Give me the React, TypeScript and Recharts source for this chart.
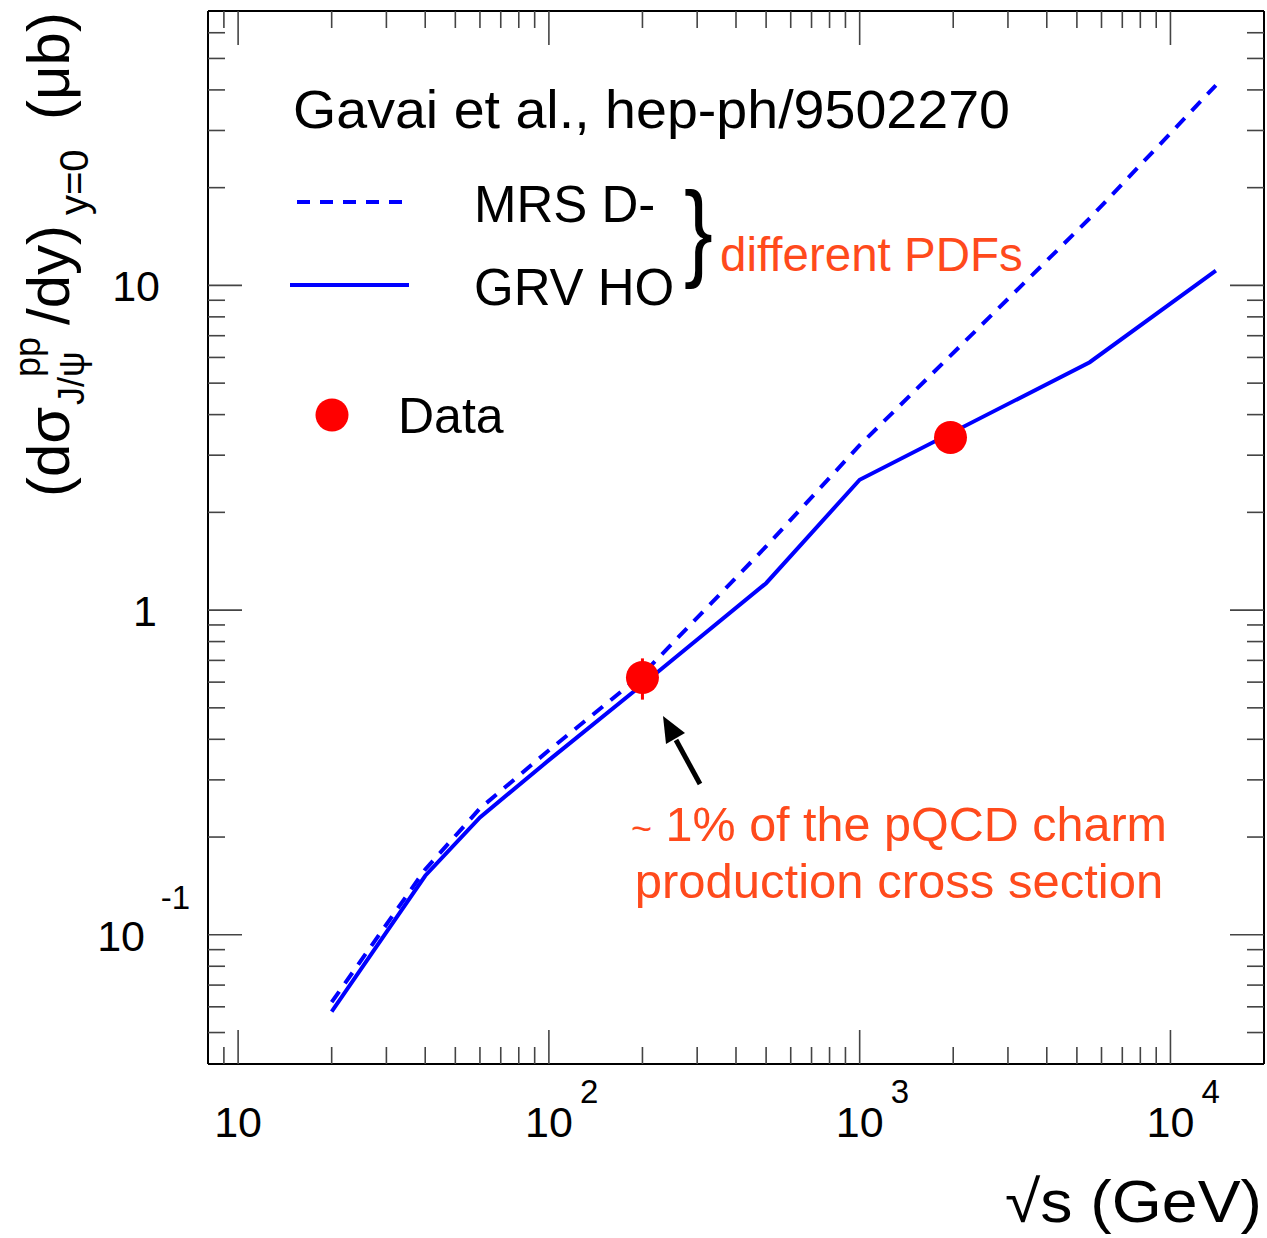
import React from 'react';
import { ComposedChart, Line, Scatter, ErrorBar, XAxis, YAxis } from 'recharts';

// sqrt(s) in GeV, dσ/dy at y=0 in μb
const sqrtS = [20, 40, 60, 100, 200, 500, 1000, 5500, 14000];
const grvHO = [0.058, 0.152, 0.23, 0.345, 0.59, 1.21, 2.52, 5.8, 11.1];
const mrsDminus = [0.062, 0.159, 0.245, 0.37, 0.634, 1.57, 3.22, 16.1, 41.3];

const dataSqrtS = [200, 1960];
const dataSigma = [0.62, 3.4];
const dataErr = [0.09, 0];

const xTicks = [
  9, 10, 20, 30, 40, 50, 60, 70, 80, 90,
  100, 200, 300, 400, 500, 600, 700, 800, 900,
  1000, 2000, 3000, 4000, 5000, 6000, 7000, 8000, 9000, 10000,
];
const yTicks = [
  0.05, 0.06, 0.07, 0.08, 0.09, 0.1, 0.2, 0.3, 0.4, 0.5, 0.6, 0.7, 0.8, 0.9,
  1, 2, 3, 4, 5, 6, 7, 8, 9, 10, 20, 30, 40, 50, 60,
];

const FONT = '"Liberation Sans", Arial, Helvetica, sans-serif';
const BLUE = '#0000ff';
const RED = '#ff0000';
const ORANGE = '#ff4a1c';
const TICK = '#444';
const MAJOR = 34;
const MINOR = 17;

const grvData = sqrtS.map((x, i) => ({ x, y: grvHO[i] }));
const mrsData = sqrtS.map((x, i) => ({ x, y: mrsDminus[i] }));
const pointData = dataSqrtS.map((x, i) => ({ x, y: dataSigma[i], err: dataErr[i] }));

const isMajor = (v: number) => Math.abs(Math.log10(v) - Math.round(Math.log10(v))) < 1e-9;

function BottomTick(props: any) {
  const { x, y, payload } = props;
  const v = payload.value;
  const major = isMajor(v);
  const exp = Math.round(Math.log10(v));
  return (
    <g>
      <line x1={x} y1={y} x2={x} y2={y - (major ? MAJOR : MINOR)} stroke={TICK} strokeWidth={1.6} />
      {major && (
        <text x={x} y={y + 73} textAnchor="middle" fontSize={43} fontFamily={FONT} fill="#000">
          10
        </text>
      )}
      {major && exp > 1 && (
        <text x={x + 31} y={y + 39} fontSize={33} fontFamily={FONT} fill="#000">
          {exp}
        </text>
      )}
    </g>
  );
}

function TopTick(props: any) {
  const { x, y, payload } = props;
  const len = isMajor(payload.value) ? MAJOR : MINOR;
  return <line x1={x} y1={y} x2={x} y2={y + len} stroke={TICK} strokeWidth={1.6} />;
}

function LeftTick(props: any) {
  const { x, y, payload } = props;
  const v = payload.value;
  const major = isMajor(v);
  const exp = Math.round(Math.log10(v));
  const txt = { fontFamily: FONT, fill: '#000' };
  return (
    <g>
      <line x1={x} y1={y} x2={x + (major ? MAJOR : MINOR)} y2={y} stroke={TICK} strokeWidth={1.6} />
      {major && exp === 1 && (
        <text x={x - 48} y={y + 16} textAnchor="end" fontSize={43} {...txt}>10</text>
      )}
      {major && exp === 0 && (
        <text x={x - 51} y={y + 16} textAnchor="end" fontSize={43} {...txt}>1</text>
      )}
      {major && exp < 0 && (
        <g>
          <text x={x - 63} y={y + 16} textAnchor="end" fontSize={43} {...txt}>10</text>
          <text x={x - 18} y={y - 26} textAnchor="end" fontSize={33} {...txt}>{exp}</text>
        </g>
      )}
    </g>
  );
}

function RightTick(props: any) {
  const { x, y, payload } = props;
  const len = isMajor(payload.value) ? MAJOR : MINOR;
  return <line x1={x} y1={y} x2={x - len} y2={y} stroke={TICK} strokeWidth={1.6} />;
}

function Annotations() {
  const t = { fontFamily: FONT };
  return (
    <svg
      width={1267}
      height={1238}
      style={{ position: 'absolute', left: 0, top: 0, pointerEvents: 'none' }}
    >
      {/* y-axis title */}
      <g transform="translate(69,497) rotate(-90)" {...t} fill="#000">
        <text x={0} y={0} fontSize={60}>(dσ</text>
        <text x={92} y={15} fontSize={36}>J/ψ</text>
        <text x={120} y={-29} fontSize={36}>pp</text>
        <text x={172} y={0} fontSize={60}>/dy)</text>
        <text x={282} y={19} fontSize={40}>y=0</text>
        <text x={377} y={0} fontSize={60}>(μb)</text>
      </g>

      {/* x-axis title */}
      <text
        x={1005}
        y={1222}
        fontSize={59}
        textLength={257}
        lengthAdjust="spacingAndGlyphs"
        {...t}
        fill="#000"
      >
        √s (GeV)
      </text>

      {/* legend */}
      <text
        x={293}
        y={128}
        fontSize={53}
        textLength={717}
        lengthAdjust="spacingAndGlyphs"
        {...t}
        fill="#000"
      >
        Gavai et al., hep-ph/9502270
      </text>
      <line x1={297} y1={202} x2={410} y2={202} stroke={BLUE} strokeWidth={4} strokeDasharray="13 10" />
      <text x={474} y={222} fontSize={51} {...t} fill="#000">MRS D-</text>
      <line x1={290} y1={285} x2={409} y2={285} stroke={BLUE} strokeWidth={4} />
      <text x={474} y={305} fontSize={51} {...t} fill="#000">GRV HO</text>
      <text x={0} y={0} fontSize={108} {...t} fill="#000" transform="translate(684,267) scale(0.8,1)">
        {'}'}
      </text>
      <text x={720} y={271} fontSize={47.5} {...t} fill={ORANGE}>different PDFs</text>
      <circle cx={332} cy={415} r={16.5} fill={RED} />
      <text x={398} y={433} fontSize={50} {...t} fill="#000">Data</text>

      {/* arrow to the RHIC point */}
      <line x1={700} y1={784} x2={676} y2={740} stroke="#000" strokeWidth={5} />
      <polygon points="663,716 685,733 666,744" fill="#000" />
      <text x={899} y={841} textAnchor="middle" fontSize={48.5} {...t} fill={ORANGE}>
        <tspan fontSize={36}>~</tspan> 1% of the pQCD charm
      </text>
      <text x={899} y={898} textAnchor="middle" fontSize={49} {...t} fill={ORANGE}>
        production cross section
      </text>
    </svg>
  );
}

export default function App() {
  const axisLine = { stroke: '#000', strokeWidth: 2 };
  return (
    <div
      style={{
        position: 'absolute',
        left: 0,
        top: 0,
        width: 1267,
        height: 1238,
        background: '#fff',
        fontFamily: FONT,
      }}
    >
      <ComposedChart
        width={1267}
        height={1238}
        margin={{ top: 10, right: 2, bottom: 74, left: 108 }}
      >
        <XAxis
          xAxisId="b"
          dataKey="x"
          type="number"
          scale="log"
          domain={[8, 20000]}
          allowDataOverflow
          ticks={xTicks}
          interval={0}
          tick={<BottomTick />}
          tickLine={false}
          tickSize={0}
          tickMargin={0}
          axisLine={axisLine}
          height={100}
        />
        <XAxis
          xAxisId="t"
          orientation="top"
          dataKey="x"
          type="number"
          scale="log"
          domain={[8, 20000]}
          allowDataOverflow
          ticks={xTicks}
          interval={0}
          tick={<TopTick />}
          tickLine={false}
          tickSize={0}
          tickMargin={0}
          axisLine={axisLine}
          height={1}
        />
        <YAxis
          yAxisId="l"
          type="number"
          scale="log"
          domain={[0.04, 70]}
          allowDataOverflow
          ticks={yTicks}
          interval={0}
          tick={<LeftTick />}
          tickLine={false}
          tickSize={0}
          tickMargin={0}
          axisLine={axisLine}
          width={100}
        />
        <YAxis
          yAxisId="r"
          orientation="right"
          type="number"
          scale="log"
          domain={[0.04, 70]}
          allowDataOverflow
          ticks={yTicks}
          interval={0}
          tick={<RightTick />}
          tickLine={false}
          tickSize={0}
          tickMargin={0}
          axisLine={axisLine}
          width={1}
        />
        <Line
          xAxisId="b"
          yAxisId="l"
          data={mrsData}
          dataKey="y"
          type="linear"
          stroke={BLUE}
          strokeWidth={4}
          strokeDasharray="13 10"
          dot={false}
          isAnimationActive={false}
        />
        <Line
          xAxisId="b"
          yAxisId="l"
          data={grvData}
          dataKey="y"
          type="linear"
          stroke={BLUE}
          strokeWidth={4}
          dot={false}
          isAnimationActive={false}
        />
        <Scatter
          xAxisId="b"
          yAxisId="l"
          data={pointData}
          dataKey="y"
          isAnimationActive={false}
          shape={(p: any) => <circle cx={p.cx} cy={p.cy} r={16.5} fill={RED} />}
        >
          <ErrorBar dataKey="err" direction="y" width={0} stroke={RED} strokeWidth={3} />
        </Scatter>
      </ComposedChart>
      <Annotations />
    </div>
  );
}
